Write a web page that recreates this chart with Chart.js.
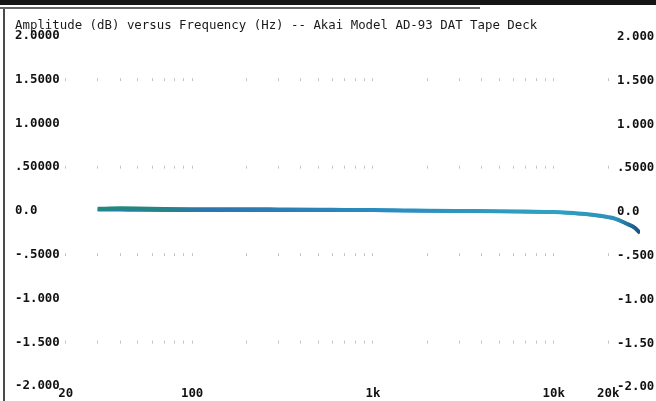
<!DOCTYPE html>
<html>
<head>
<meta charset="utf-8">
<script src="https://cdn.jsdelivr.net/npm/chart.js@4/dist/chart.umd.min.js"></script>
<style>
  body { margin: 0; background: #fff; }
  #wrap { position: relative; width: 656px; height: 401px; overflow: hidden; background: #fff; }
  #c { position: absolute; left: 0; top: 0; }
  .edge-top { position: absolute; left: 0; top: 0; width: 656px; height: 5px; background: #151515; }
  .edge-thin { position: absolute; left: 0; top: 7px; width: 480px; height: 2px; background: #666; }
  .edge-left { position: absolute; left: 3px; top: 9px; width: 2px; height: 392px; background: #4a4a4a; }
</style>
</head>
<body>
<div id="wrap">
  <canvas id="c" width="656" height="401"></canvas>
  <div class="edge-top"></div>
  <div class="edge-thin"></div>
  <div class="edge-left"></div>
</div>
<script>
// frequency response, both channels (Hz / dB)
const freqs = [30, 40, 50, 70, 100, 150, 200, 300, 500, 700, 1000, 1500, 2000, 3000,
               5000, 7000, 10000, 12000, 15000, 18000, 20000, 22000, 25000, 28000, 30000];
const leftCh = [0.025, 0.03, 0.028, 0.022, 0.02, 0.02, 0.02, 0.018, 0.015, 0.012, 0.01, 0.006, 0.003, 0.0,
                -0.003, -0.007, -0.012, -0.02, -0.035, -0.055, -0.07, -0.09, -0.14, -0.19, -0.25];
const rightCh = [0.012, 0.01, 0.008, 0.006, 0.005, 0.006, 0.006, 0.006, 0.006, 0.006, 0.005, 0.002, 0.0, -0.003,
                 -0.006, -0.01, -0.015, -0.023, -0.038, -0.058, -0.073, -0.093, -0.142, -0.192, -0.25];

// axis ticks
const gridFreqs = [20, 30, 40, 50, 60, 70, 80, 90, 100, 200, 300, 400, 500, 600, 700, 800, 900,
                   1000, 2000, 3000, 4000, 5000, 6000, 7000, 8000, 9000, 10000, 20000];
const xLabelValues = [20, 100, 1000, 10000, 20000];
const xLabelText = ['20', '100', '1k', '10k', '20k'];
const yTicks = [2, 1.5, 1, 0.5, 0, -0.5, -1, -1.5, -2];
const yLeftLabels = ['2.0000', '1.5000', '1.0000', '.50000', '0.0', '-.5000', '-1.000', '-1.500', '-2.000'];
const yRightLabels = ['2.000', '1.500', '1.000', '.5000', '0.0', '-.500', '-1.00', '-1.50', '-2.00'];

const MONO = "'DejaVu Sans Mono', 'Liberation Mono', monospace";

function lineGradient(context) {
    const chart = context.chart;
    const area = chart.chartArea;
    if (!area) return '#2a8fb5';
    const g = chart.ctx.createLinearGradient(area.left, 0, area.right, 0);
    g.addColorStop(0.0, '#1f8a7e');
    g.addColorStop(0.15, '#23887f');
    g.addColorStop(0.25, '#2c74b0');
    g.addColorStop(0.55, '#2a8cc0');
    g.addColorStop(0.85, '#2ea2c2');
    g.addColorStop(0.96, '#2b8fb8');
    g.addColorStop(1.0, '#1d4f80');
    return g;
}

// right-hand amplitude labels, placed from the y scale
const rightLabels = {
    id: 'rightLabels',
    afterDraw(chart) {
        const ctx = chart.ctx;
        const y = chart.scales.y;
        ctx.save();
        ctx.font = 'bold 12.4px ' + MONO;
        ctx.fillStyle = '#111';
        ctx.textAlign = 'left';
        ctx.textBaseline = 'middle';
        yTicks.forEach((v, i) => {
            ctx.fillText(yRightLabels[i], chart.chartArea.right - 23, y.getPixelForValue(v) + 1);
        });
        ctx.restore();
    }
};

new Chart(document.getElementById('c'), {
    type: 'line',
    data: {
        labels: freqs,
        datasets: [{
            label: 'Right',
            data: freqs.map((f, i) => ({ x: f, y: rightCh[i] })),
            borderColor: '#2d78b6',
            borderWidth: 3,
            pointRadius: 0,
            cubicInterpolationMode: 'monotone',
            order: 2
        }, {
            label: 'Left',
            data: freqs.map((f, i) => ({ x: f, y: leftCh[i] })),
            borderColor: lineGradient,
            borderWidth: 4,
            pointRadius: 0,
            cubicInterpolationMode: 'monotone',
            order: 1
        }]
    },
    options: {
        responsive: false,
        animation: false,
        devicePixelRatio: 1,
        layout: { padding: { top: 18, left: 15, right: 16, bottom: 0 } },
        plugins: {
            legend: { display: false },
            tooltip: { enabled: false },
            title: {
                display: true,
                text: 'Amplitude (dB) versus Frequency (Hz) -- Akai Model AD-93 DAT Tape Deck',
                align: 'start',
                color: '#1a1a1a',
                font: { family: MONO, size: 12.4, weight: 'normal' },
                padding: { top: 0, bottom: 3 }
            }
        },
        scales: {
            x: {
                type: 'logarithmic',
                min: 20,
                max: 30000,
                afterBuildTicks: (scale) => {
                    scale.ticks = gridFreqs.map(v => ({ value: v }));
                },
                ticks: {
                    autoSkip: false,
                    maxRotation: 0,
                    padding: 0,
                    color: '#111',
                    font: { family: MONO, size: 12.4, weight: 'bold' },
                    callback: (value) => {
                        const k = xLabelValues.indexOf(value);
                        return k >= 0 ? xLabelText[k] : '';
                    }
                },
                grid: { color: '#c4c4c4', lineWidth: 1, drawTicks: false },
                border: { display: false, dash: [3, 84.5], dashOffset: 45.25 }
            },
            y: {
                min: -2,
                max: 2,
                afterBuildTicks: (scale) => {
                    scale.ticks = yTicks.map(v => ({ value: v }));
                },
                ticks: {
                    padding: 3,
                    crossAlign: 'far',
                    color: '#111',
                    font: { family: MONO, size: 12.4, weight: 'bold' },
                    callback: (value) => {
                        const k = yTicks.indexOf(value);
                        return k >= 0 ? yLeftLabels[k] : '';
                    }
                },
                grid: { display: false, drawTicks: false },
                border: { display: false }
            }
        }
    },
    plugins: [rightLabels]
});
</script>
</body>
</html>
